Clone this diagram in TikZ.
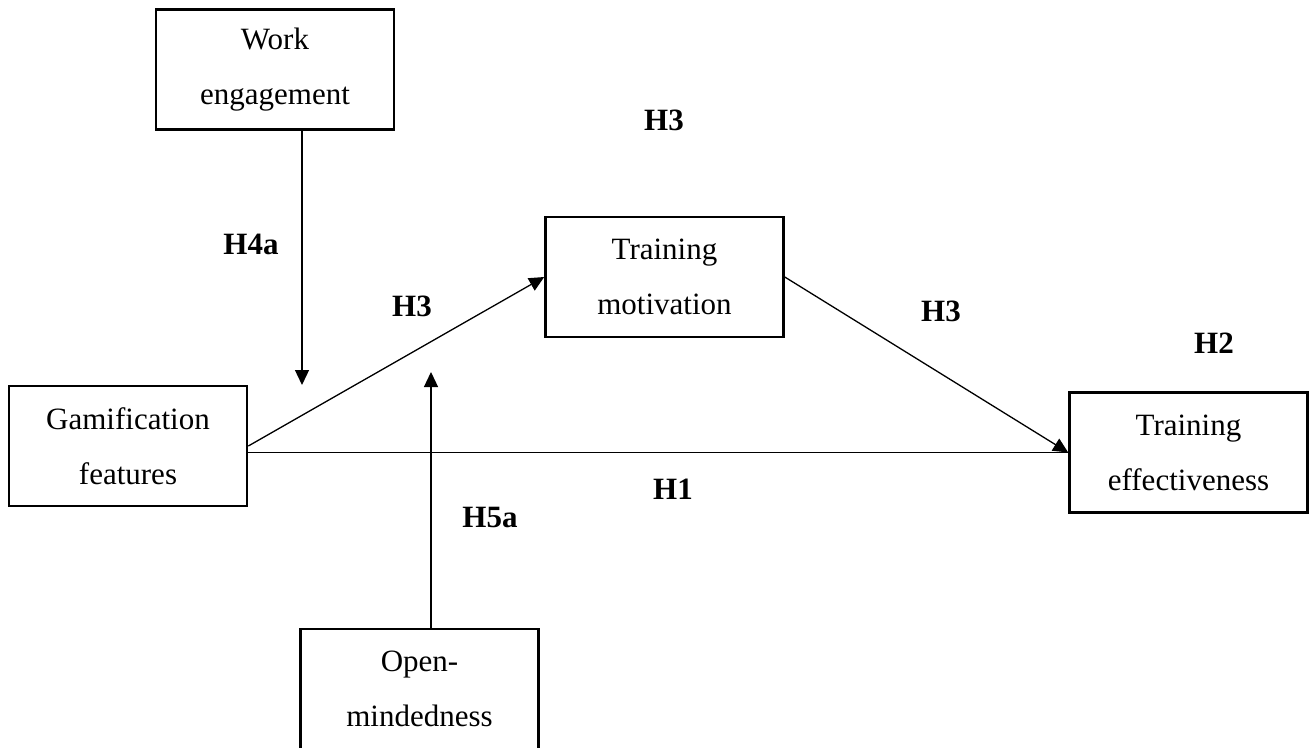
\documentclass[tikz,border=0pt]{standalone}
\usepackage{fontspec}
\setmainfont{Liberation Serif}
\usetikzlibrary{arrows.meta}
\begin{document}
\begin{tikzpicture}[x=1pt,y=-1pt,
  box/.style={draw,line width=2.6pt,rectangle,minimum width=238pt,minimum height=120pt,
    inner sep=0pt,align=center,font=\fontsize{31}{55}\selectfont},
  hyp/.style={inner sep=0pt,font=\fontsize{31}{37}\selectfont\bfseries},
  link/.style={line width=1.3pt},
  arr/.style={link,-{Triangle[length=15pt,width=14pt]}}]
\useasboundingbox (0,0) rectangle (1314,747);
\fill[white] (0,0) rectangle (1314,747);

% construct boxes
\node[box] (WE) at (275,69.5) {Work\\engagement};
\node[box] (GF) at (128,446) {Gamification\\features};
\node[box] (TM) at (664.5,277) {Training\\motivation};
\node[box] (TE) at (1188.5,452.5) {Training\\effectiveness};
\node[box] (OM) at (419.5,689) {Open-\\mindedness};

% ends of the moderator arrows
\coordinate (wetip) at (302,385);
\coordinate (omtip) at (431,372);

% paths
\draw[arr] (WE.south -| wetip) -- (wetip);
\draw[arr] (OM.north -| omtip) -- (omtip);
\draw[arr] (GF.east) -- (TM.west);
\draw[link] (GF.east |- TE.west) -- (TE.west);
\draw[arr] (TM.east) -- (TE.west);

% hypothesis labels
\node[hyp] (h3top) at (664,120) {H3};
\node[hyp] (h4a) at (251,244.5) {H4a};
\node[hyp] (h3a) at (412,306) {H3};
\node[hyp] (h3b) at (941,311) {H3};
\node[hyp] (h2) at (1214,343) {H2};
\node[hyp] (h1) at (673,489) {H1};
\node[hyp] (h5a) at (490,517) {H5a};
\end{tikzpicture}
\end{document}
